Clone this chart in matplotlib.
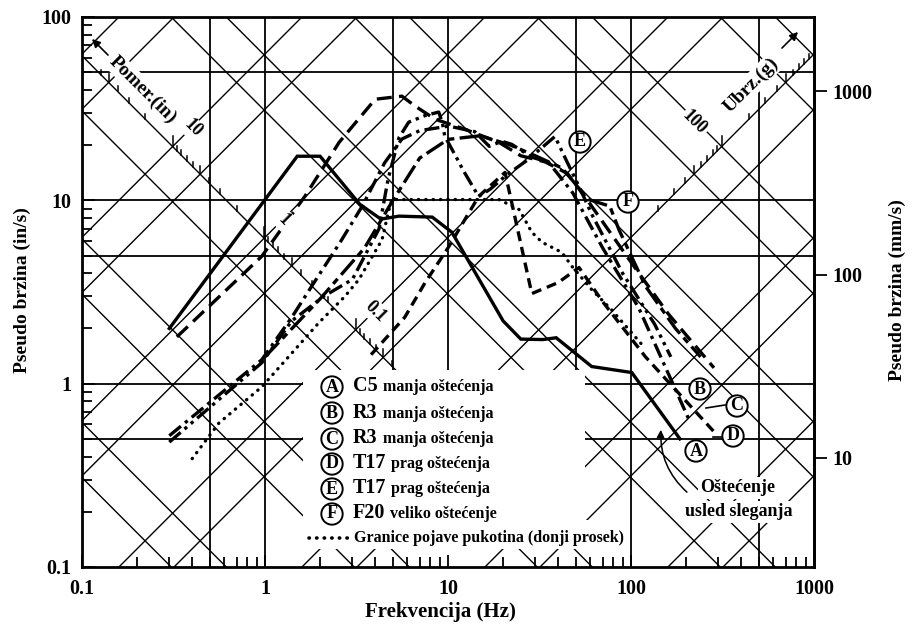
import numpy as np
import matplotlib
matplotlib.use('Agg')
import matplotlib.pyplot as plt
from matplotlib.ticker import LogLocator, NullFormatter, NullLocator
from matplotlib.patches import Rectangle
from matplotlib.lines import Line2D

plt.rcParams['font.family'] = ['Liberation Serif', 'DejaVu Serif']
plt.rcParams['font.weight'] = 'bold'

# ---------------- data (frequency Hz, pseudo velocity in/s) ----------------
freq_A = [0.3, 1.5, 2.0, 3.3, 4.3, 5.4, 8.2, 10.5, 20, 25, 33, 39, 49, 61, 101, 185]
vel_A = [2.0, 17.4, 17.4, 9.5, 7.9, 8.2, 8.1, 6.7, 2.2, 1.75, 1.74, 1.78, 1.48, 1.24, 1.15, 0.5]

freq_B = [0.33, 0.96, 1.65, 2.54, 4.0, 5.6, 6.6, 8.5, 12.4, 19, 25, 34, 45, 60, 100, 160, 284]
vel_B = [1.8, 4.95, 10.5, 20.7, 35.6, 37, 32.7, 27.7, 24.4, 20.7, 17.5, 16.2, 14.0, 9.5, 4.6, 2.4, 1.22]

freq_C = [0.3, 0.96, 1.4, 1.8, 2.6, 3.4, 4.5, 5.6, 7.0, 10.1, 14, 16.8, 19.7, 22.3, 28.7, 35.5, 48, 70, 110, 207]
vel_C = [0.52, 1.35, 2.3, 3.4, 6.0, 9.3, 16, 21.6, 24, 25.4, 23.7, 19.7, 21, 20.2, 17.2, 16.1, 11, 5.5, 2.6, 0.64]

freq_D = [3.8, 5.8, 7.5, 10, 14.7, 20.5, 28.7, 40, 52, 70, 120, 284]
vel_D = [1.44, 2.3, 3.56, 5.5, 10.5, 14.2, 3.1, 3.56, 4.3, 2.8, 1.4, 0.547]

freq_E = [0.3, 0.96, 1.4, 2.1, 3.0, 4.2, 4.7, 5.4, 6.1, 7.5, 8.9, 9.3, 9.6, 11.5, 12, 14.7,
          17, 21, 27, 38.4, 45, 52, 61, 90, 135, 165]
vel_E = [0.48, 1.3, 2.2, 3.0, 3.7, 7.0, 13, 22, 26.7, 29, 30.3, 26.7, 22.4, 16.1, 14.8, 10.5,
         11.5, 13.8, 16.5, 22.3, 16, 11.9, 8.4, 4.0, 2.1, 1.4]

freq_F = [1.0, 2.0, 3.5, 5.0, 7.0, 10, 15, 22, 30, 42, 58.6, 76.6, 86, 120, 175, 240]
vel_F = [1.4, 2.9, 5.5, 10, 17, 21.5, 22.5, 20, 17.5, 15, 10.1, 9.3, 6.9, 3.4, 2.0, 1.4]

freq_thr = [0.4, 0.56, 0.96, 1.97, 2.73, 3.26, 4.36, 4.76, 4.94, 19, 24.5, 28.7, 32.7, 41.9,
            47.6, 61, 78, 115]
vel_thr = [0.39, 0.61, 0.96, 2.15, 2.99, 3.7, 6.1, 8.9, 10.1, 10.1, 8.9, 6.7, 5.9, 5.2,
           4.36, 3.26, 2.54, 1.63]

x_ticks = [0.1, 1, 10, 100, 1000]
x_ticklabels = ['0.1', '1', '10', '100', '1000']
y_ticks = [0.1, 1, 10, 100]
y_ticklabels = ['0.1', '1', '10', '100']
mm_ticks = [10, 100, 1000]
mm_ticklabels = ['10', '100', '1000']

grid_v_full = [0.5, 1, 100, 500]
grid_v_part = [5, 10, 50]
grid_h = [0.5, 1, 5, 10, 50]
diag_mult = [1, 5]

legend_rows = [('A', 'C5', 'manja oštećenja'),
               ('B', 'R3', 'manja oštećenja'),
               ('C', 'R3', 'manja oštećenja'),
               ('D', 'T17', 'prag oštećenja'),
               ('E', 'T17', 'prag oštećenja'),
               ('F', 'F20', 'veliko oštećenje')]
thr_label = 'Granice pojave pukotina (donji prosek)'

G = 386.09  # in/s^2 per g

# ---------------- figure ----------------
W, H = 914, 630
fig = plt.figure(figsize=(W / 100, H / 100), dpi=100)
L, R, T, B = 82, 814, 17, 567
ax = fig.add_axes([L / W, 1 - B / H, (R - L) / W, (B - T) / H])
ax.set_xscale('log')
ax.set_yscale('log')
ax.set_xlim(0.1, 1000)
ax.set_ylim(0.1, 100)


def P(x, y):
    """pixel (image coords) -> data coords"""
    return 10 ** (-1 + 4 * (x - L) / (R - L)), 10 ** (-1 + 3 * (B - y) / (B - T))


def fx(x):
    return x / W


def fy(y):
    return 1 - y / H


# grid lines
for f in grid_v_full:
    ax.axvline(f, color='k', lw=1.3, zorder=1)
for f in grid_v_part:
    ax.plot([f, f], [P(0, 370)[1], 100], color='k', lw=1.3, zorder=1)
for v in grid_h:
    ax.axhline(v, color='k', lw=1.3, zorder=1)

fr = np.array([0.05, 3000.0])
for e in range(-6, 4):
    for k in diag_mult:
        d = k * 10.0 ** e
        ax.plot(fr, 2 * np.pi * fr * d, color='k', lw=1.0, zorder=1)
for e in range(-5, 5):
    for k in diag_mult:
        a = k * 10.0 ** e
        ax.plot(fr, a * G / (2 * np.pi * fr), color='k', lw=1.0, zorder=1)

# displacement scale on a = 0.1 g line
a0 = 0.1
pxdec = (B - T) / 3.0
for e in (-2, -1, 0, 1):
    for k in range(1, 10):
        d = k * 10.0 ** e
        if d < 0.035 or d > 65:
            continue
        f = np.sqrt(a0 * G / (4 * np.pi ** 2 * d))
        v = 2 * np.pi * f * d
        ln = 11 if k == 1 else (8 if k == 5 else 5)
        ax.plot([f, f], [v, v * 10 ** (ln / pxdec)], color='k', lw=1.1, zorder=2)
for d, s in [(10, '10'), (1, '1'), (0.1, '0.1')]:
    f = np.sqrt(a0 * G / (4 * np.pi ** 2 * d))
    v = 2 * np.pi * f * d
    ax.annotate(s, xy=(f, v), xytext=(20, 18), textcoords='offset pixels', rotation=-45,
                ha='center', va='center', fontsize=13, zorder=4,
                bbox=dict(boxstyle='square,pad=0.1', fc='white', ec='none'))
ax.text(*P(143, 90), 'Pomer.(in)', rotation=-45, ha='center', va='center', fontsize=14,
        zorder=4, bbox=dict(boxstyle='square,pad=0.1', fc='white', ec='none'))
ax.annotate('', xy=P(90, 37), xytext=P(110, 57),
            arrowprops=dict(arrowstyle='-|>', color='k', lw=1.2, mutation_scale=12), zorder=4)

# acceleration scale on d = 0.01 in line
d0 = 0.01
for e in (1, 2):
    for k in range(1, 10):
        a = k * 10.0 ** e
        if a < 15:
            continue
        f = np.sqrt(a * G / (4 * np.pi ** 2 * d0))
        v = 2 * np.pi * f * d0
        ln = 11 if k == 1 else (8 if k == 5 else 5)
        ax.plot([f, f], [v, v * 10 ** (ln / pxdec)], color='k', lw=1.1, zorder=2)
f100 = np.sqrt(100 * G / (4 * np.pi ** 2 * d0))
ax.annotate('100', xy=(f100, 2 * np.pi * f100 * d0), xytext=(-27, 24), textcoords='offset pixels',
            rotation=-45, ha='center', va='center', fontsize=13, zorder=4,
            bbox=dict(boxstyle='square,pad=0.1', fc='white', ec='none'))
ax.text(*P(751, 85), 'Ubrz.(g)', rotation=45, ha='center', va='center', fontsize=14,
        zorder=4, bbox=dict(boxstyle='square,pad=0.1', fc='white', ec='none'))
ax.annotate('', xy=P(800, 30), xytext=P(780, 50),
            arrowprops=dict(arrowstyle='-|>', color='k', lw=1.2, mutation_scale=12), zorder=4)

# ---------------- curves ----------------
lw = 2.4
ax.plot(freq_A, vel_A, color='k', lw=lw, ls='-', zorder=3, solid_joinstyle='miter')
ax.plot(freq_B, vel_B, color='k', lw=lw, ls=(0, (4.5, 2.2)), zorder=3)
ax.plot(freq_C, vel_C, color='k', lw=lw, ls=(0, (4.5, 1.6, 1.0, 1.6)), zorder=3)
ax.plot(freq_D, vel_D, color='k', lw=lw, ls=(0, (3.0, 1.8)), zorder=3)
ax.plot(freq_E, vel_E, color='k', lw=lw, ls=(0, (4.5, 1.5, 1.0, 1.5, 1.0, 1.5)), zorder=3)
ax.plot(freq_F, vel_F, color='k', lw=lw, ls=(0, (6.0, 1.6, 2.0, 1.6)), zorder=3)
ax.plot(freq_thr, vel_thr, color='k', lw=2.4, ls=(0, (0.1, 2.1)), dash_capstyle='round', zorder=3)

# ---------------- axes styling ----------------
for sp in ax.spines.values():
    sp.set_linewidth(2.0)
ax.set_xticks(x_ticks, x_ticklabels)
ax.set_yticks(y_ticks, y_ticklabels)
ax.xaxis.set_minor_locator(LogLocator(base=10, subs=np.arange(2, 10)))
ax.yaxis.set_minor_locator(LogLocator(base=10, subs=np.arange(2, 10)))
ax.xaxis.set_minor_formatter(NullFormatter())
ax.yaxis.set_minor_formatter(NullFormatter())
ax.tick_params(which='both', direction='in', top=False, right=False, width=1.3)
ax.tick_params(which='major', length=9, labelsize=14.5)
ax.tick_params(which='minor', length=7)
ax.tick_params(axis='x', which='major', pad=9)
ax.tick_params(axis='y', which='major', pad=8)

sec = ax.secondary_yaxis('right', functions=(lambda v: v * 25.4, lambda m: m / 25.4))
sec.set_yticks(mm_ticks, mm_ticklabels)
sec.yaxis.set_minor_locator(NullLocator())
sec.tick_params(direction='out', length=9, width=1.3, labelsize=14.5, pad=4)
sec.spines['right'].set_linewidth(2.0)

fig.text(fx(440), fy(612), 'Frekvencija (Hz)', ha='center', va='center', fontsize=15)
fig.text(fx(22), fy(290), 'Pseudo brzina (in/s)', ha='center', va='center', rotation=90, fontsize=14)
fig.text(fx(897), fy(290), 'Pseudo brzina (mm/s)', ha='center', va='center', rotation=90, fontsize=14)

# ---------------- legend ----------------
fig.add_artist(Rectangle((fx(303), fy(528)), (585 - 303) / W, (528 - 370) / H,
                         transform=fig.transFigure, fc='white', ec='none', zorder=1.5))
fig.add_artist(Rectangle((fx(303), fy(549)), (626 - 303) / W, (549 - 520) / H,
                         transform=fig.transFigure, fc='white', ec='none', zorder=1.5))

circ = dict(boxstyle='circle,pad=0.12', fc='white', ec='k', lw=1.4)
renderer = fig.canvas.get_renderer()
row_base = [391, 418, 443, 468, 493, 518]
row_circ = [385, 411, 437, 462, 487, 512]
for (letter, code, desc), yb, yc in zip(legend_rows, row_base, row_circ):
    fig.text(fx(332), fy(yc), letter, ha='center', va='center_baseline', fontsize=13,
             bbox=circ, zorder=5)
    t1 = fig.text(fx(353), fy(yb), code, ha='left', va='baseline', fontsize=14.5, zorder=5)
    bb = t1.get_window_extent(renderer)
    fig.text((bb.x1 + 5) / W, fy(yb), desc, ha='left', va='baseline', fontsize=11.5, zorder=5)

fig.add_artist(Line2D([fx(309), fx(350)], [fy(538), fy(538)], transform=fig.transFigure,
                      color='k', lw=2.6, ls=(0, (0.1, 2.0)), dash_capstyle='round', zorder=5))
fig.text(fx(354), fy(542), thr_label, ha='left', va='baseline', fontsize=11.5, zorder=5)

# ---------------- curve labels ----------------
for letter, x, y in [('E', 580, 140), ('F', 628, 200), ('B', 700, 387), ('C', 737, 404),
                     ('D', 733, 434), ('A', 696, 449)]:
    fig.text(fx(x), fy(y), letter, ha='center', va='center_baseline', fontsize=13,
             bbox=circ, zorder=5)
fig.add_artist(Line2D([fx(706), fx(725)], [fy(408), fy(405)], transform=fig.transFigure,
                      color='k', lw=1.2, zorder=5))
fig.add_artist(Line2D([fx(713), fx(721)], [fy(437), fy(437)], transform=fig.transFigure,
                      color='k', lw=1.2, zorder=5))

# settlement note
fig.text(fx(738), fy(488), 'Oštećenje', ha='center', va='center', fontsize=13, zorder=5,
         bbox=dict(boxstyle='square,pad=0.15', fc='white', ec='none'))
fig.text(fx(739), fy(512), 'usled sleganja', ha='center', va='center', fontsize=13, zorder=5,
         bbox=dict(boxstyle='square,pad=0.15', fc='white', ec='none'))
ax.annotate('', xy=P(661, 427), xytext=P(689, 494),
            arrowprops=dict(arrowstyle='-|>', color='k', lw=1.1, mutation_scale=11,
                            connectionstyle='arc3,rad=-0.25'), zorder=5)

fig.savefig('out.png', dpi=100)
